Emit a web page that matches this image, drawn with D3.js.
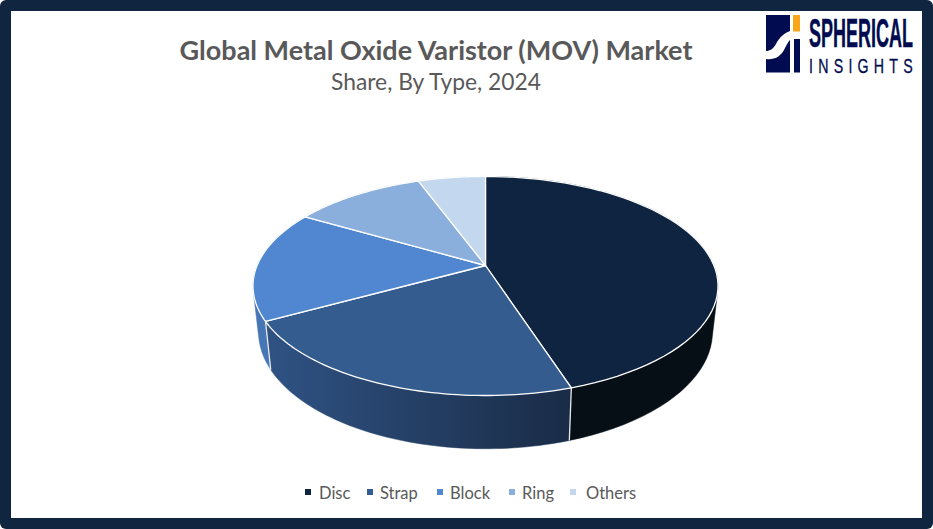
<!DOCTYPE html>
<html><head><meta charset="utf-8">
<script src="https://cdnjs.cloudflare.com/ajax/libs/d3/7.8.5/d3.min.js"></script>
<style>html,body{margin:0;padding:0;background:#fff}svg{display:block}text{font-family:Lato,sans-serif}</style>
</head><body><svg id="c" width="933" height="529"></svg>
<script>
const categories = ["Disc","Strap","Block","Ring","Others"];
const shares = [45,22,16.4,11,5.6];
const topColors = ["#0e2440","#355c8f","#5087d0","#8aafdc","#c3d7ee"];
const sideStart = ["#060e16","#2f5283","#4676b5","#7a9cc6","#adbdd2"];
const sideEnd = ["#060e16","#1a2c47","#4676b5","#7a9cc6","#adbdd2"];
const sidePaintOrder = [4,3,0,2,1];
const titleText = "Global Metal Oxide Varistor (MOV) Market";
const subtitleText = "Share, By Type, 2024";

const svg = d3.select("#c");
const defs = svg.append("defs");

// frame
svg.append("rect").attr("x",0).attr("y",0).attr("width",933).attr("height",529).attr("rx",6).attr("fill","#10253f");
svg.append("rect").attr("x",11).attr("y",11).attr("width",911).attr("height",507).attr("fill","#fff");

// perspective disc: parameters fitted to the picture
const k = 0.187;
const topX = d3.scaleLinear().domain([-1,1]).range([485.5-228.4,485.5+228.4]);
const topY = d3.scaleLinear().domain([-1,1]).range([265.5+105.7,265.5-105.7]);
const botX = d3.scaleLinear().domain([-1,1]).range([485.5-223,485.5+223]);
const botY = d3.scaleLinear().domain([-1,1]).range([310+112.8,310-112.8]);
const project = (sx,sy,a)=>{
  const u=Math.sin(a), v=Math.cos(a), w=1+k*v;
  return [sx(u/w), sy(v/w)];
};
const centre = [topX(0),topY(0)];
const samples = (a0,a1)=>d3.range(0,61).map(i=>a0+(a1-a0)*i/60);
const line = d3.line();

const arcs = d3.pie().sort(null).value(d=>d)(shares);
const data = arcs.map((a,i)=>({...a,i}));

data.forEach(d=>{
  const g=defs.append("linearGradient").attr("id","side"+d.i)
    .attr("gradientUnits","userSpaceOnUse")
    .attr("x1",271).attr("x2",568).attr("y1",0).attr("y2",0);
  g.append("stop").attr("offset",0).attr("stop-color",sideStart[d.i]);
  g.append("stop").attr("offset",1).attr("stop-color",sideEnd[d.i]);
});

// each side is the hull of its top and bottom rim; the top face hides what lies behind it
const sides = svg.append("g");
sidePaintOrder.forEach(i=>{
  const d=data[i];
  const s=samples(d.startAngle,d.endAngle);
  const pts=s.map(a=>project(topX,topY,a)).concat(s.map(a=>project(botX,botY,a)));
  const hull=d3.polygonHull(pts);
  sides.append("path").attr("d",line(hull)+"Z").attr("fill",`url(#side${d.i})`).attr("stroke",`url(#side${d.i})`).attr("stroke-width",0.5);
});
// white edges between side faces
data.forEach(d=>{
  sides.append("path").attr("d",line([project(topX,topY,d.endAngle),project(botX,botY,d.endAngle)]))
    .attr("stroke","#fff").attr("stroke-width",1.3).attr("opacity",0.9).attr("fill","none");
});
// top faces
const tops = svg.append("g");
data.forEach(d=>{
  const pts=[centre].concat(samples(d.startAngle,d.endAngle).map(a=>project(topX,topY,a)));
  tops.append("path").attr("d",line(pts)+"Z").attr("fill",topColors[d.i]).attr("stroke","#fff").attr("stroke-width",1.3).attr("stroke-linejoin","round");
});

// titles
svg.append("text").attr("x",436).attr("y",60).attr("text-anchor","middle").attr("font-size",27).attr("font-weight",700).attr("fill","#595959").text(titleText);
svg.append("text").attr("x",436).attr("y",90).attr("text-anchor","middle").attr("font-size",22.8).attr("fill","#595959").text(subtitleText);

// legend
const legendSquareX=[305,367,437,509,570];
const legendTextX=[319,380,450,522,586];
const legend=svg.append("g");
categories.forEach((c,i)=>{
  legend.append("rect").attr("x",legendSquareX[i]).attr("y",489).attr("width",6).attr("height",6).attr("fill",topColors[i]);
  legend.append("text").attr("x",legendTextX[i]).attr("y",498.5).attr("font-size",16.5).attr("fill","#595959").text(c);
});

// logo
const logo=svg.append("g");
const navy="#000b50";
logo.append("path").attr("d","M766 15H790V31C784 33 779 38 776 44C773 49 770 51 766 51Z").attr("fill",navy);
logo.append("path").attr("d","M766 59C774 60 780 57 784 50C786 46 788 42 790 40V72.5H766Z").attr("fill",navy);
logo.append("rect").attr("x",794).attr("y",39).attr("width",6).attr("height",33.5).attr("fill",navy);
logo.append("rect").attr("x",793).attr("y",15).attr("width",7).attr("height",16.5).attr("fill","#f9a61a");
const fit=(sel,x,y,w)=>{
  const n=sel.node().getComputedTextLength();
  sel.attr("transform",`translate(${x},${y}) scale(${w/n},1)`);
};
const t1=logo.append("text").attr("font-size",41.5).attr("font-weight",700).attr("fill",navy)
  .attr("stroke",navy).attr("stroke-width",0.5)
  .style("font-family","'Liberation Sans Narrow','Liberation Sans',sans-serif").text("SPHERICAL");
fit(t1,809,46.5,104);
const t2=logo.append("text").attr("font-size",20).attr("fill",navy).attr("stroke",navy).attr("stroke-width",0.3)
  .attr("letter-spacing",7.4)
  .style("font-family","'Liberation Sans Narrow','Liberation Sans',sans-serif").text("INSIGHTS");
fit(t2,809,72.5,109);
</script></body></html>
